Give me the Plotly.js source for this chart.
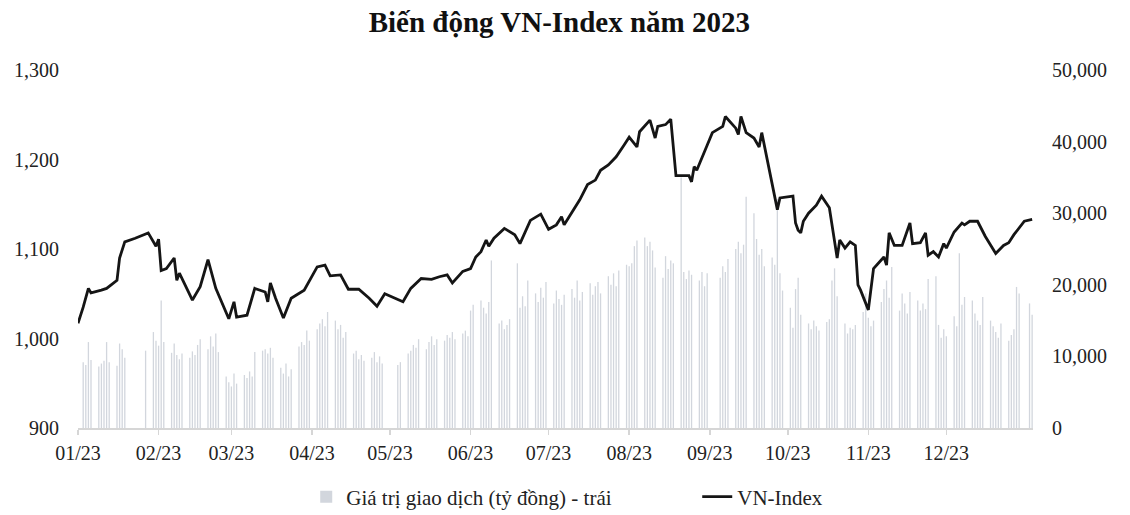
<!DOCTYPE html>
<html>
<head>
<meta charset="utf-8">
<script src="https://cdn.plot.ly/plotly-3.0.1.min.js"></script>
<style>html,body{margin:0;padding:0;background:#fff;}#chart{width:1130px;height:515px;}</style>
</head>
<body>
<div id="chart"></div>
<script>
// VN-Index closing values
const idxDates = [
 '2023-01-01','2023-01-03','2023-01-05','2023-01-06','2023-01-10','2023-01-12','2023-01-16','2023-01-17','2023-01-19','2023-01-23',
 '2023-01-28','2023-01-31','2023-02-01','2023-02-02','2023-02-04','2023-02-07','2023-02-08','2023-02-09','2023-02-14','2023-02-17',
 '2023-02-20','2023-02-23','2023-02-28','2023-03-02','2023-03-03','2023-03-07','2023-03-10','2023-03-14','2023-03-15','2023-03-16',
 '2023-03-18','2023-03-21','2023-03-24','2023-03-29','2023-04-03','2023-04-06','2023-04-08','2023-04-12','2023-04-15','2023-04-19',
 '2023-04-23','2023-04-26','2023-04-29','2023-05-03','2023-05-06','2023-05-09','2023-05-13','2023-05-17','2023-05-20','2023-05-23',
 '2023-05-25','2023-05-29','2023-06-01','2023-06-03','2023-06-05','2023-06-07','2023-06-08','2023-06-10','2023-06-14','2023-06-18',
 '2023-06-20','2023-06-24','2023-06-28','2023-07-01','2023-07-04','2023-07-06','2023-07-07','2023-07-13','2023-07-16','2023-07-19',
 '2023-07-21','2023-07-24','2023-07-27','2023-07-30','2023-08-01','2023-08-04','2023-08-05','2023-08-09','2023-08-11','2023-08-12',
 '2023-08-15','2023-08-17','2023-08-19','2023-08-24','2023-08-25','2023-08-26','2023-08-27','2023-08-31','2023-09-02','2023-09-06',
 '2023-09-07','2023-09-11','2023-09-12','2023-09-13','2023-09-15','2023-09-18','2023-09-20','2023-09-21','2023-09-27','2023-09-28',
 '2023-10-03','2023-10-04','2023-10-05','2023-10-06','2023-10-07','2023-10-09','2023-10-12','2023-10-14','2023-10-17','2023-10-20',
 '2023-10-21','2023-10-23','2023-10-25','2023-10-27','2023-10-28','2023-10-29','2023-11-01','2023-11-03','2023-11-07','2023-11-08',
 '2023-11-09','2023-11-11','2023-11-14','2023-11-17','2023-11-18','2023-11-21','2023-11-23','2023-11-24','2023-11-26','2023-11-28',
 '2023-11-30','2023-12-01','2023-12-04','2023-12-07','2023-12-08','2023-12-10','2023-12-13','2023-12-16','2023-12-20','2023-12-23',
 '2023-12-25','2023-12-27','2023-12-31','2024-01-03'
];
const idxValues = [
 1017,1035,1056,1051,1054,1056,1065,1090,1108,1112,
 1118,1103,1111,1076,1078,1090,1065,1073,1043,1058,
 1088,1056,1022,1041,1024,1026,1056,1052,1041,1062,
 1045,1023,1045,1054,1080,1082,1070,1071,1055,1055,
 1045,1036,1050,1045,1041,1056,1067,1066,1069,1071,
 1062,1075,1078,1091,1097,1110,1103,1112,1123,1116,
 1106,1132,1139,1122,1127,1136,1127,1155,1172,1177,
 1188,1194,1203,1216,1225,1214,1231,1244,1224,1237,
 1239,1245,1182,1182,1175,1192,1188,1216,1230,1237,
 1248,1235,1228,1248,1230,1224,1214,1230,1144,1157,
 1159,1129,1121,1118,1131,1140,1149,1159,1146,1090,
 1110,1101,1108,1104,1060,1054,1032,1078,1091,1082,
 1118,1104,1104,1129,1106,1107,1118,1093,1097,1091,
 1106,1101,1119,1129,1127,1131,1131,1114,1095,1104,
 1107,1116,1131,1133
];

// Trading value (tỷ đồng), by month: trading days and values
const months = ['2023-01','2023-02','2023-03','2023-04','2023-05','2023-06','2023-07','2023-08','2023-09','2023-10','2023-11','2023-12','2024-01'];
const tradingDays = [
 [3,4,5,6,9,10,11,12,13,16,17,18,19,27,30,31],
 [1,2,3,6,7,8,9,10,13,14,15,16,17,20,21,22,23,24,27,28],
 [1,2,3,6,7,8,9,10,13,14,15,16,17,20,21,22,23,24,27,28,29,30,31],
 [3,4,5,6,7,10,11,12,13,14,17,18,19,20,21,24,25,26,27,28],
 [4,5,8,9,10,11,12,15,16,17,18,19,22,23,24,25,26,29,30,31],
 [1,2,5,6,7,8,9,12,13,14,15,16,19,20,21,22,23,26,27,28,29,30],
 [3,4,5,6,7,10,11,12,13,14,17,18,19,20,21,24,25,26,27,28,31],
 [1,2,3,4,7,8,9,10,11,14,15,16,17,18,21,22,23,24,25,28,29,30,31],
 [5,6,7,8,11,12,13,14,15,18,19,20,21,22,25,26,27,28,29],
 [2,3,4,5,6,9,10,11,12,13,16,17,18,19,20,23,24,25,26,27,30,31],
 [1,2,3,6,7,8,9,10,13,14,15,16,17,20,21,22,23,24,27,28,29,30],
 [1,4,5,6,7,8,11,12,13,14,15,18,19,20,21,22,25,26,27,28,29],
 [2,3]
];
const tradingValue = [
 [9200,8800,12000,9500,8600,9000,9400,12000,9200,8700,11800,11000,9800,10800,13400,12200],
 [11500,17800,12000,10500,11800,10200,9600,10400,9800,10700,10200,11600,12400,11000,12800,11400,13200,10600,7200,6400],
 [5800,7600,6200,7400,7000,7900,7200,10600,10800,11000,10400,11200,9800,8400,7600,9000,7200,8200,11400,12000,11600,13600,12200],
 [13800,14600,15200,14200,16200,15000,13800,14400,12600,13400,10400,10800,9600,10200,9400,9800,10600,9200,10000,9000],
 [8800,9200,10400,10800,11600,11200,12400,11000,12000,12800,11600,12400,12200,13000,12600,13400,12400,13200,13600,12800],
 [16400,17200,17800,16800,16000,17600,23400,14600,15000,13800,14400,15200,23000,16800,18400,17000,20600,18800,17600,19600,18200,20400],
 [17400,19200,18000,17200,18600,19400,18200,20600,17800,19000,20200,18600,19800,20400,18800,21200,20000,21600,19800,22000,22800],
 [22600,23000,25400,26200,26600,25400,26000,24800,22400,21000,24000,22200,23400,23000,35000,21800,20800,22000,21400,20600,21800,19800,21600],
 [21000,22600,21800,23600,25000,26000,24400,25600,32300,30000,26400,24200,25000,22600,23800,22800,32000,21600,19200],
 [16800,14000,19400,21000,15800,14600,13800,15000,14200,13600,14800,15200,20600,22300,18400,14600,13200,14000,13800,14400,16200,18800],
 [15400,14200,15000,17600,19400,20600,18200,22500,16400,18800,17400,16000,19000,17800,16400,17400,16600,20800,21200,14400,12600,13800],
 [12800,15600,14200,24400,17200,18300,17800,16000,15000,14400,18300,15000,14200,13400,12600,14600,12200,13000,13800,19700,18800],
 [17400,15800]
];

const tickDates = ['2023-01-01','2023-02-01','2023-03-01','2023-04-01','2023-05-01','2023-06-01','2023-07-01','2023-08-01','2023-09-01','2023-10-01','2023-11-01','2023-12-01'];

const barX = [], barY = [];
months.forEach((m, i) => {
  tradingDays[i].forEach((d, j) => {
    barX.push(m + '-' + String(d).padStart(2, '0'));
    barY.push(tradingValue[i][j]);
  });
});

const serif = 'Liberation Serif, Times New Roman, serif';

const traces = [
  {
    type: 'bar', x: barX, y: barY, yaxis: 'y',
    name: 'Giá trị giao dịch (tỷ đồng) - trái',
    marker: {color: '#d2d6dd', line: {width: 0}}
  },
  {
    type: 'scatter', mode: 'lines', x: idxDates, y: idxValues, yaxis: 'y2',
    name: 'VN-Index',
    line: {color: '#151515', width: 2.8}
  }
];

const layout = {
  width: 1130, height: 515,
  paper_bgcolor: '#ffffff', plot_bgcolor: '#ffffff',
  margin: {l: 78, r: 97, t: 70, b: 87},
  bargap: 0.5,
  font: {family: serif, size: 20, color: '#222222'},
  title: {
    text: '<b>Biến động VN-Index năm 2023</b>',
    font: {family: serif, size: 29, color: '#111111'},
    xref: 'container', x: 0.495, xanchor: 'center',
    yref: 'container', y: 0.957, yanchor: 'middle'
  },
  xaxis: {
    type: 'date',
    range: ['2023-01-01', '2024-01-03 08:00'],
    tickvals: tickDates,
    tickformat: '%m/%y',
    showgrid: false, zeroline: false,
    showline: true, linecolor: '#d6d6d6', linewidth: 1.5,
    ticks: 'outside', ticklen: 5, tickcolor: '#d6d6d6', tickwidth: 1.5,
    tickfont: {family: serif, size: 20, color: '#222222'},
    ticklabelstandoff: 1
  },
  yaxis: {
    side: 'right', range: [0, 50000], dtick: 10000, tickformat: ',d',
    showgrid: false, zeroline: false, showline: false, ticks: '',
    tickfont: {family: serif, size: 20, color: '#222222'},
    ticklabelstandoff: 18
  },
  yaxis2: {
    overlaying: 'y', side: 'left', range: [900, 1300], dtick: 100, tickformat: ',d',
    showgrid: false, zeroline: false, showline: false, ticks: '',
    tickfont: {family: serif, size: 20, color: '#222222'},
    ticklabelstandoff: 18
  },
  showlegend: true,
  legend: {
    orientation: 'h',
    xref: 'container', x: 0.271, xanchor: 'left',
    yref: 'container', y: 0.035, yanchor: 'middle',
    entrywidth: 346,
    font: {family: serif, size: 21, color: '#222222'},
    bgcolor: 'rgba(0,0,0,0)', traceorder: 'normal'
  },
  hovermode: false
};

Plotly.newPlot('chart', traces, layout, {displayModeBar: false, staticPlot: true});
</script>
</body>
</html>
